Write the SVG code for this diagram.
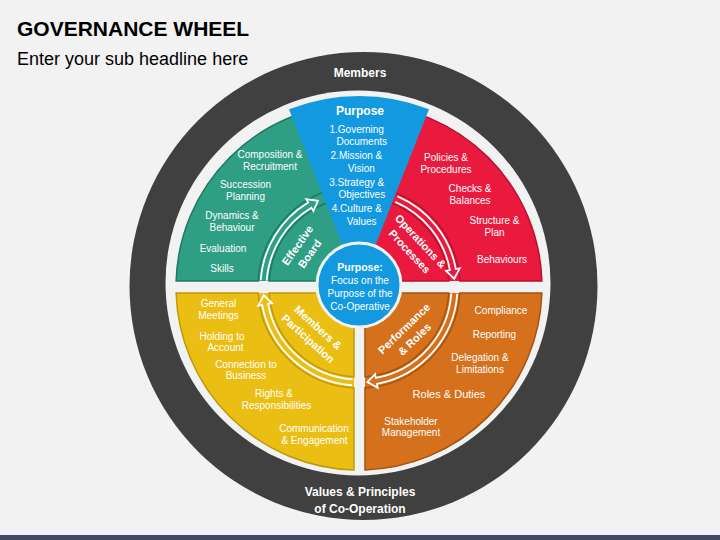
<svg xmlns="http://www.w3.org/2000/svg" width="720" height="540" viewBox="0 0 720 540">
<style>
.t{font-family:"Liberation Sans",Arial,sans-serif;font-size:10px;fill:#fff;text-anchor:middle}
.b{font-family:"Liberation Sans",Arial,sans-serif;font-weight:bold;fill:#fff;text-anchor:middle}
.lab{font-size:11px}
.arr{fill:none;stroke:#fff;stroke-width:1.8;stroke-linejoin:miter}
.g{fill:#2E9E84}.gs{fill:#2E9E84;stroke:#1E7A64;stroke-width:1.5}
.r{fill:#EA1A3E}.rs{fill:#EA1A3E;stroke:#B8122E;stroke-width:1.5}
.o{fill:#D5701C}.os{fill:#D5701C;stroke:#A5540F;stroke-width:1.5}
.y{fill:#EBBE14}.ys{fill:#EBBE14;stroke:#BF980C;stroke-width:1.5}
</style>
<rect width="720" height="540" fill="#F2F2F2"/>
<rect y="535" width="720" height="5" fill="#3E4D63"/>
<g id="title">
<text x="17" y="36" style="font-family:'Liberation Sans',Arial,sans-serif;font-weight:bold;font-size:21px;fill:#000">GOVERNANCE WHEEL</text>
<text x="17" y="65" style="font-family:'Liberation Sans',Arial,sans-serif;font-size:18px;fill:#000">Enter your sub headline here</text>
</g>
<g id="ring">
<circle cx="363.5" cy="286" r="234" fill="#404040"/>
<circle cx="358" cy="283" r="192.5" fill="#F2F2F2"/>
<text class="b" x="360" y="77" style="font-size:12px">Members</text>
<text class="b" x="360" y="496" style="font-size:12px">Values &amp; Principles</text>
<text class="b" x="360" y="512.5" style="font-size:12px">of Co-Operation</text>
</g>
<g id="quadrant-board">
<path class="g" d="M354,281 L176.1,281 A183,183 0 0,1 354,104.07 Z"/>
<path class="gs" d="M176.1,281 A183,183 0 0,1 354,104.07 L354,186.12 A101,101 0 0,0 258.18,281 Z"/>
<path class="gs" d="M354,281 L269.2,281 A90,90 0 0,1 354,197.14 Z"/>
<text class="t" x="270" y="158">Composition &amp;</text>
<text class="t" x="270" y="169.5">Recruitment</text>
<text class="t" x="245.5" y="188">Succession</text>
<text class="t" x="245.5" y="200">Planning</text>
<text class="t" x="232" y="219">Dynamics &amp;</text>
<text class="t" x="232" y="230.5">Behaviour</text>
<text class="t" x="223" y="252">Evaluation</text>
<text class="t" x="222" y="272">Skills</text>
<text class="b lab" transform="translate(303.5,249.5) rotate(-55)"><tspan x="0" y="-3.5">Effective</tspan><tspan x="0" y="11.5">Board</tspan></text>
</g>
<g id="quadrant-operations">
<path class="r" d="M365,281 L365,104.1 A183,183 0 0,1 541.9,281 Z"/>
<path class="rs" d="M365,104.1 A183,183 0 0,1 541.9,281 L459.82,281 A101,101 0 0,0 365,186.18 Z"/>
<path class="rs" d="M365,281 L365,197.2 A90,90 0 0,1 448.8,281 Z"/>
<text class="t" x="446" y="161">Policies &amp;</text>
<text class="t" x="446" y="172.5">Procedures</text>
<text class="t" x="470" y="191.5">Checks &amp;</text>
<text class="t" x="470" y="203.5">Balances</text>
<text class="t" x="494.5" y="223.5">Structure &amp;</text>
<text class="t" x="494.5" y="235.5">Plan</text>
<text class="t" x="502" y="262.5">Behaviours</text>
<text class="b lab" transform="translate(415.2,246.3) rotate(47)"><tspan x="0" y="-3.5">Operations &amp;</tspan><tspan x="0" y="11.5">Processes</tspan></text>
</g>
<g id="quadrant-performance">
<path class="o" d="M365,293 L541.9,293 A183,183 0 0,1 365,469.9 Z"/>
<path class="os" d="M541.9,293 A183,183 0 0,1 365,469.9 L365,387.82 A101,101 0 0,0 459.82,293 Z"/>
<path class="os" d="M365,293 L448.8,293 A90,90 0 0,1 365,376.8 Z"/>
<text class="t" x="501" y="313.5">Compliance</text>
<text class="t" x="494.5" y="338">Reporting</text>
<text class="t" x="480" y="361">Delegation &amp;</text>
<text class="t" x="480" y="372.8">Limitations</text>
<text class="t" x="449" y="398" style="font-size:11px">Roles &amp; Duties</text>
<text class="t" x="411" y="424.5">Stakeholder</text>
<text class="t" x="411" y="436">Management</text>
<text class="b lab" transform="translate(409.2,333.8) rotate(-44)"><tspan x="0" y="-3.5">Performance</tspan><tspan x="0" y="11.5">&amp; Roles</tspan></text>
</g>
<g id="quadrant-members">
<path class="y" d="M354,293 L354,469.93 A183,183 0 0,1 176.1,293 Z"/>
<path class="ys" d="M354,469.93 A183,183 0 0,1 176.1,293 L258.18,293 A101,101 0 0,0 354,387.88 Z"/>
<path class="ys" d="M354,293 L354,376.86 A90,90 0 0,1 269.2,293 Z"/>
<text class="t" x="218.5" y="307">General</text>
<text class="t" x="218.5" y="318.5">Meetings</text>
<text class="t" x="222" y="340">Holding to</text>
<text class="t" x="225.5" y="351.2">Account</text>
<text class="t" x="246" y="368">Connection to</text>
<text class="t" x="246" y="379.2">Business</text>
<text class="t" x="274" y="397">Rights &amp;</text>
<text class="t" x="276.5" y="408.5">Responsibilities</text>
<text class="t" x="314" y="432">Communication</text>
<text class="t" x="314.5" y="443.5">&amp; Engagement</text>
<text class="b lab" transform="translate(313.3,333) rotate(42)"><tspan x="0" y="-3.5">Members &amp;</tspan><tspan x="0" y="11.5">Participation</tspan></text>
</g>
<g id="connectors">
<path class="g" d="M260.74,280.13 A98.5,98.5 0 0,1 308.27,202.57 L306.21,199.14 L317.89,200.8 L313.42,211.14 L311.36,207.71 A92.5,92.5 0 0,0 266.73,280.55 Z"/>
<path class="arr" d="M260.74,280.13 A98.5,98.5 0 0,1 308.27,202.57 L306.21,199.14 L317.89,200.8 L313.42,211.14 L311.36,207.71 A92.5,92.5 0 0,0 266.73,280.55"/>
<path class="r" d="M397.49,196.33 A98.5,98.5 0 0,1 455.85,269.05 L459.78,268.32 L454.14,278.68 L446.02,270.87 L449.95,270.14 A92.5,92.5 0 0,0 395.14,201.85 Z"/>
<path class="arr" d="M397.49,196.33 A98.5,98.5 0 0,1 455.85,269.05 L459.78,268.32 L454.14,278.68 L446.02,270.87 L449.95,270.14 A92.5,92.5 0 0,0 395.14,201.85"/>
<path class="o" d="M457.26,293.87 A98.5,98.5 0 0,1 376.95,383.85 L377.68,387.78 L367.32,382.14 L375.13,374.02 L375.86,377.95 A92.5,92.5 0 0,0 451.27,293.45 Z"/>
<path class="arr" d="M457.26,293.87 A98.5,98.5 0 0,1 376.95,383.85 L377.68,387.78 L367.32,382.14 L375.13,374.02 L375.86,377.95 A92.5,92.5 0 0,0 451.27,293.45"/>
<path class="y" d="M352.13,385.26 A98.5,98.5 0 0,1 262.15,304.95 L258.22,305.68 L263.86,295.32 L271.98,303.13 L268.05,303.86 A92.5,92.5 0 0,0 352.55,379.27 Z"/>
<path class="arr" d="M352.13,385.26 A98.5,98.5 0 0,1 262.15,304.95 L258.22,305.68 L263.86,295.32 L271.98,303.13 L268.05,303.86 A92.5,92.5 0 0,0 352.55,379.27"/>
</g>
<g id="purpose-wedge">
<path d="M359,287 L289,109.29 A191,191 0 0,1 429,109.29 Z" fill="#1399E0"/>
<text class="b" x="360" y="114.5" style="font-size:12px">Purpose</text>
<text class="t" x="356.7" y="133">1.Governing</text>
<text class="t" x="361.7" y="145">Documents</text>
<text class="t" x="356.4" y="159">2.Mission &amp;</text>
<text class="t" x="361.3" y="172.3">Vision</text>
<text class="t" x="356.7" y="185.7">3.Strategy &amp;</text>
<text class="t" x="361.8" y="197.8">Objectives</text>
<text class="t" x="356.8" y="211.7">4.Culture &amp;</text>
<text class="t" x="361.7" y="225">Values</text>
</g>
<g id="center">
<circle cx="359" cy="285" r="42" fill="#1399E0" stroke="#F2F2F2" stroke-width="3"/>
<text class="b" x="360" y="271" style="font-size:10.5px">Purpose:</text>
<text class="t" x="360" y="283.5">Focus on the</text>
<text class="t" x="360" y="296.8">Purpose of the</text>
<text class="t" x="360" y="310">Co-Operative</text>
</g>
</svg>
